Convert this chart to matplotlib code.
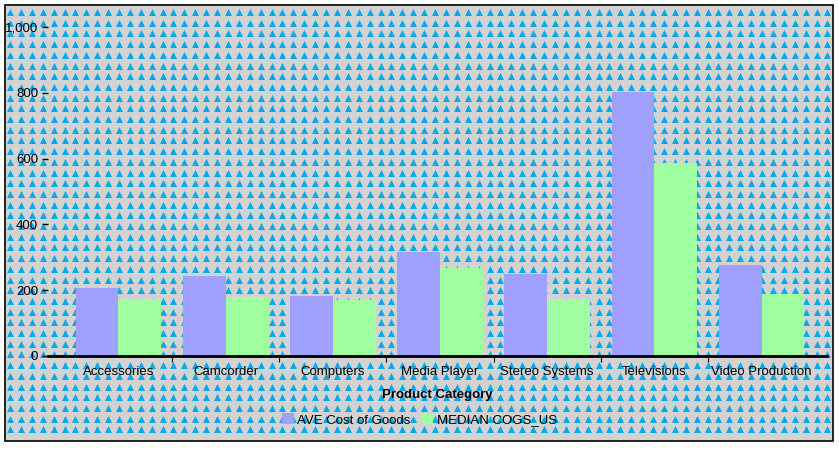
import numpy as np
import matplotlib
matplotlib.use('Agg')
import matplotlib.pyplot as plt
from matplotlib.patches import Rectangle

categories = ['Accessories', 'Camcorder', 'Computers', 'Media Player',
              'Stereo Systems', 'Televisions', 'Video Production']
ave_cost = [207, 243, 182, 316, 249, 802, 277]
median_cogs = [173, 179, 170, 267, 173, 587, 188]
yticks = [0, 200, 400, 600, 800, 1000]

plt.rcParams['font.family'] = ['Liberation Sans', 'DejaVu Sans']

W, H = 839, 450
fig = plt.figure(figsize=(W / 100, H / 100), dpi=100)

# background: gray panel with blue triangle pattern, black frame
bg = fig.add_axes([0, 0, 1, 1])
bg.set_xlim(0, W)
bg.set_ylim(H, 0)
bg.axis('off')
bg.add_patch(Rectangle((5, 5), 828, 436, facecolor='#d2d2d2',
                       edgecolor='black', linewidth=1.2, zorder=0))
px = np.arange(10, 830, 10.9)
py = np.arange(12, 440, 10.7)
gx, gy = np.meshgrid(px, py)
bg.scatter(gx.ravel(), gy.ravel(), marker='^', s=25, c='#00a8ec',
           linewidths=0, zorder=1)

# chart
ax = fig.add_axes([48 / W, 1 - 356 / H, (827 - 48) / W, (356 - 10.5) / H])
ax.patch.set_alpha(0)
x = np.arange(len(categories))
w = 0.4
ax.bar(x - w / 2, ave_cost, width=w, color='#a0a0ff', label='AVE Cost of Goods')
ax.bar(x + w / 2, median_cogs, width=w, color='#a0ffa0', label='MEDIAN COGS_US')

ax.set_xlim(-0.657, 6.61)
ax.set_ylim(0, 1050)
ax.set_yticks(yticks)
ax.set_yticklabels(['{:,}'.format(v) for v in yticks], fontsize=9.5)
ax.set_xticks(x)
ax.set_xticklabels(categories, fontsize=9.5)
ax.tick_params(axis='x', length=0, pad=7)
ax.set_xticks(x[:-1] + 0.5, minor=True)
ax.tick_params(axis='x', which='minor', length=4, width=0.8, direction='out')
ax.tick_params(axis='y', length=4, width=1, pad=3)

for s in ['top', 'right', 'left']:
    ax.spines[s].set_visible(False)
ax.spines['bottom'].set_linewidth(2)

ax.set_xlabel('Product Category', fontsize=9.5, fontweight='bold', labelpad=8)

leg = fig.legend(loc='center', bbox_to_anchor=(0.5, 1 - 420 / H), ncol=2,
                 frameon=False, fontsize=9.5, handlelength=0.9, handleheight=0.9,
                 handletextpad=0.3, columnspacing=0.8)

plt.savefig('out.png', dpi=100)
